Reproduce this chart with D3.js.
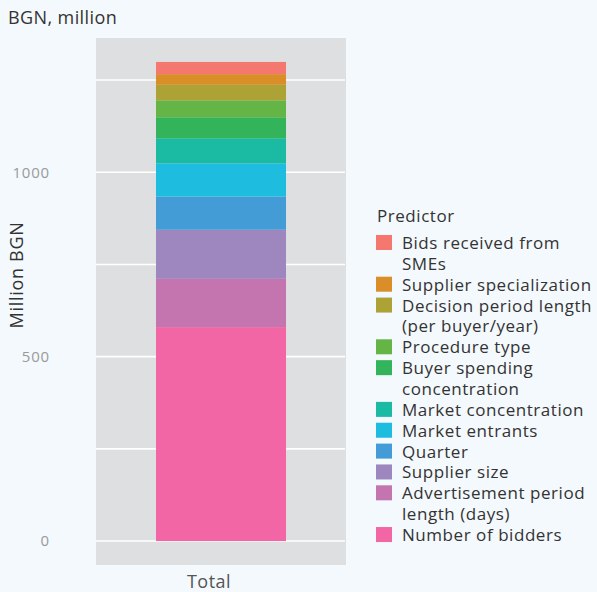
<!DOCTYPE html>
<html>
<head>
<meta charset="utf-8">
<script src="https://cdn.jsdelivr.net/npm/d3@7"></script>
<style>
  body { margin: 0; background: #F3F9FD; }
  svg { display: block; font-family: "Open Sans", sans-serif; }
</style>
</head>
<body>
<div id="chart"></div>
<script>
// predictors, stacked bottom to top
var predictors = ["Number of bidders", "Advertisement period length (days)", "Supplier size", "Quarter",
  "Market entrants", "Market concentration", "Buyer spending concentration", "Procedure type",
  "Decision period length (per buyer/year)", "Supplier specialization", "Bids received from SMEs"];
var values = [580, 131, 133, 90, 90, 68, 57, 46, 42, 29, 33];
var colors = ["#F266A6", "#C474AE", "#9E86BE", "#449CD6", "#1EBDE0", "#1ABAA3",
  "#33B45A", "#64B446", "#ACA236", "#D98E28", "#F47770"];
// legend wrapping, same order as predictors
var legendLines = [["Number of bidders"], ["Advertisement period", "length (days)"], ["Supplier size"],
  ["Quarter"], ["Market entrants"], ["Market concentration"], ["Buyer spending", "concentration"],
  ["Procedure type"], ["Decision period length", "(per buyer/year)"], ["Supplier specialization"],
  ["Bids received from", "SMEs"]];
var yTicks = [0, 500, 1000];
var yMinor = [250, 750, 1250];
var category = "Total";

function draw() {
  var width = 597, height = 592;
  var svg = d3.select("#chart").append("svg").attr("width", width).attr("height", height);

  // stack
  var stack = [];
  var acc = 0;
  values.forEach(function(v, i) {
    stack.push({name: predictors[i], y0: acc, y1: acc + v, color: colors[i]});
    acc += v;
  });
  var total = acc;
  var pad = total * 0.05;

  var x = d3.scaleBand().domain([category]).range([96, 346]).paddingInner(0.3).paddingOuter(0.323);
  var y = d3.scaleLinear().domain([-pad, total + pad]).range([565, 38]);

  // panel
  svg.append("rect").attr("x", 96).attr("y", 38).attr("width", 250).attr("height", 527).attr("fill", "#DEDFE0");

  svg.selectAll(".grid").data(yTicks.concat(yMinor)).enter().append("line")
    .attr("x1", 96).attr("x2", 345)
    .attr("y1", function(d) { return y(d); }).attr("y2", function(d) { return y(d); })
    .attr("stroke", "#fff").attr("stroke-width", 1.6);

  // bars
  svg.selectAll(".seg").data(stack).enter().append("rect")
    .attr("x", x(category)).attr("width", x.bandwidth())
    .attr("y", function(d) { return y(d.y1); })
    .attr("height", function(d) { return y(d.y0) - y(d.y1); })
    .attr("fill", function(d) { return d.color; });

  // y axis labels
  svg.selectAll(".ytick").data(yTicks).enter().append("text")
    .attr("x", 50).attr("y", function(d) { return y(d); }).attr("dy", "0.36em")
    .attr("text-anchor", "end").style("font-size", "15px").style("letter-spacing", "0.8px")
    .attr("fill", "#9A9A9A")
    .text(function(d) { return d; });

  svg.append("text").attr("transform", "translate(23,275) rotate(-90)")
    .attr("text-anchor", "middle").style("font-size", "18px").style("letter-spacing", "0.7px")
    .attr("fill", "#333")
    .text("Million BGN");

  svg.append("text").attr("x", 209).attr("y", 588).attr("text-anchor", "middle")
    .style("font-size", "18px").style("letter-spacing", "0.5px").attr("fill", "#555").text(category);

  svg.append("text").attr("x", 8).attr("y", 24).style("font-size", "18px").style("letter-spacing", "0.4px")
    .attr("fill", "#333")
    .text("BGN, million");

  // legend, top to bottom
  var legend = svg.append("g").style("font-size", "17px").style("letter-spacing", "0.55px");
  legend.append("text").attr("x", 377).attr("y", 222).attr("fill", "#333").text("Predictor");
  var lineH = 20.86;
  var row = 0;
  for (var i = predictors.length - 1; i >= 0; i--) {
    var keyTop = 235 + row * lineH;
    legend.append("rect").attr("x", 376).attr("y", keyTop).attr("width", 16).attr("height", 15).attr("fill", colors[i]);
    var t = legend.append("text").attr("x", 402).attr("y", keyTop + 14).attr("fill", "#333");
    legendLines[i].forEach(function(l, j) {
      t.append("tspan").attr("x", 402).attr("dy", j === 0 ? 0 : lineH).text(l);
    });
    row += legendLines[i].length;
  }
}
draw();
</script>
</body>
</html>
